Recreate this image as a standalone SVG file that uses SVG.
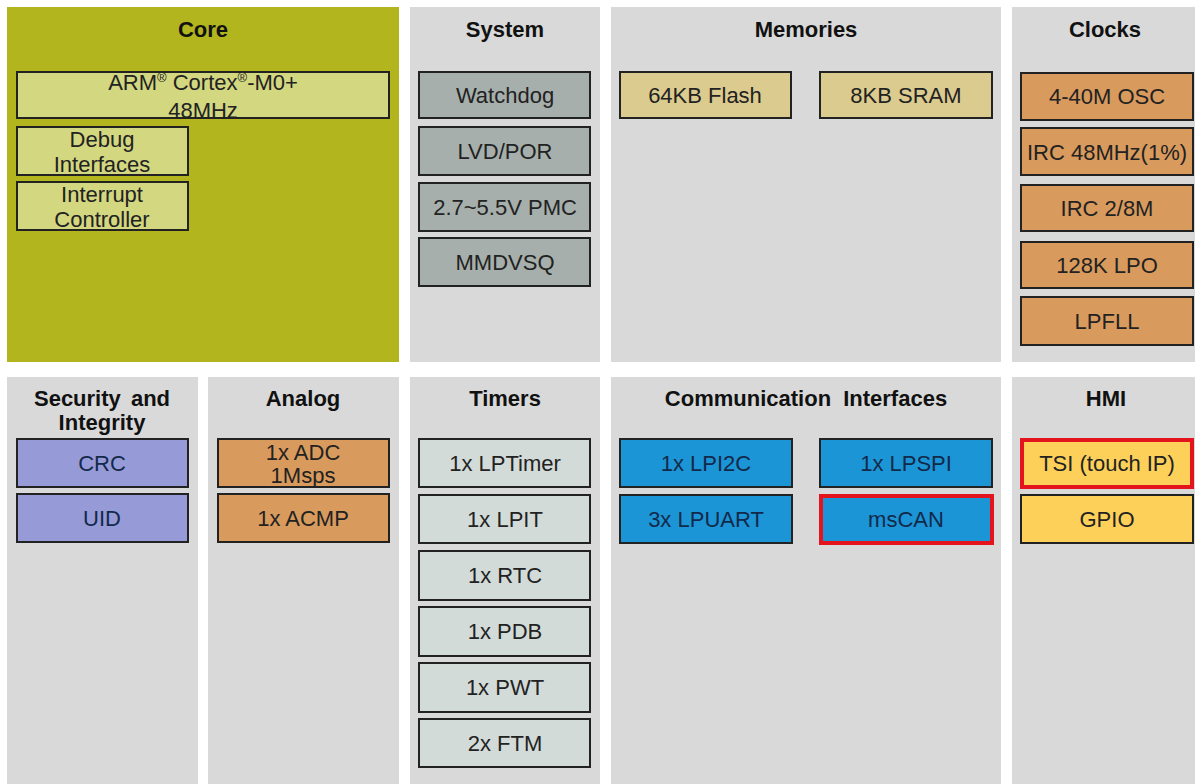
<svg xmlns="http://www.w3.org/2000/svg" width="1195" height="784" viewBox="0 0 1195 784">
<style>
.panel{fill:#d9d9d9}
.core{fill:#b3b51f}
.t{font-family:"Liberation Sans",Arial,sans-serif;font-size:22px;font-weight:bold;fill:#111;text-anchor:middle}
.l{font-family:"Liberation Sans",Arial,sans-serif;font-size:22px;fill:#222;text-anchor:middle}
.lb{font-family:"Liberation Sans",Arial,sans-serif;font-size:22px;fill:#13294a;text-anchor:middle}
.b{stroke:#222;stroke-width:2}
.red{stroke:#e3141b;stroke-width:4}
.cb{fill:#d2d780}
.sy{fill:#a6afab}
.me{fill:#dccb8e}
.or{fill:#d99a5d}
.se{fill:#969bd8}
.ti{fill:#d3dbd8}
.co{fill:#1b95d6}
.hm{fill:#fdd05a}
</style>
<rect width="1195" height="784" fill="#ffffff"/>
<g id="panel-core"><rect class="core" x="7" y="7" width="392" height="355"/><text class="t" x="203" y="37">Core</text></g>
<g id="panel-system"><rect class="panel" x="410" y="7" width="190" height="355"/><text class="t" x="505" y="37">System</text></g>
<g id="panel-memories"><rect class="panel" x="611" y="7" width="390" height="355"/><text class="t" x="806" y="37">Memories</text></g>
<g id="panel-clocks"><rect class="panel" x="1012" y="7" width="183" height="355"/><text class="t" x="1105" y="37">Clocks</text></g>
<g id="panel-security"><rect class="panel" x="7" y="377" width="191" height="407"/><text class="t" x="102" y="406" word-spacing="4">Security and</text><text class="t" x="102" y="430">Integrity</text></g>
<g id="panel-analog"><rect class="panel" x="208" y="377" width="191" height="407"/><text class="t" x="303" y="406">Analog</text></g>
<g id="panel-timers"><rect class="panel" x="410" y="377" width="190" height="407"/><text class="t" x="505" y="406">Timers</text></g>
<g id="panel-comm"><rect class="panel" x="611" y="377" width="390" height="407"/><text class="t" x="806" y="406" word-spacing="6">Communication Interfaces</text></g>
<g id="panel-hmi"><rect class="panel" x="1012" y="377" width="183" height="407"/><text class="t" x="1106" y="406">HMI</text></g>

<g id="arm"><rect class="cb b" x="17" y="72" width="372" height="46"/><text class="l" x="203" y="90">ARM<tspan font-size="13" dy="-8">®</tspan><tspan dy="8"> Cortex</tspan><tspan font-size="13" dy="-8">®</tspan><tspan dy="8">-M0+</tspan></text><text class="l" x="203" y="118">48MHz</text></g>
<g id="debug"><rect class="cb b" x="17" y="127" width="171" height="48"/><text class="l" x="102" y="147">Debug</text><text class="l" x="102" y="172">Interfaces</text></g>
<g id="interrupt"><rect class="cb b" x="17" y="182" width="171" height="48"/><text class="l" x="102" y="202">Interrupt</text><text class="l" x="102" y="227">Controller</text></g>

<g id="watchdog"><rect class="sy b" x="419" y="72" width="171" height="46"/><text class="l" x="505" y="103">Watchdog</text></g>
<g id="lvd"><rect class="sy b" x="419" y="127" width="171" height="48"/><text class="l" x="505" y="159">LVD/POR</text></g>
<g id="pmc"><rect class="sy b" x="419" y="183" width="171" height="48"/><text class="l" x="505" y="215">2.7~5.5V PMC</text></g>
<g id="mmdvsq"><rect class="sy b" x="419" y="238" width="171" height="48"/><text class="l" x="505" y="270">MMDVSQ</text></g>

<g id="flash"><rect class="me b" x="620" y="72" width="171" height="46"/><text class="l" x="705" y="103">64KB Flash</text></g>
<g id="sram"><rect class="me b" x="820" y="72" width="172" height="46"/><text class="l" x="906" y="103">8KB SRAM</text></g>

<g id="osc"><rect class="or b" x="1021" y="73" width="172" height="47"/><text class="l" x="1107" y="104">4-40M OSC</text></g>
<g id="irc48"><rect class="or b" x="1021" y="128" width="172" height="47"/><text class="l" x="1107" y="160">IRC 48MHz(1%)</text></g>
<g id="irc28"><rect class="or b" x="1021" y="185" width="172" height="46"/><text class="l" x="1107" y="216">IRC 2/8M</text></g>
<g id="lpo"><rect class="or b" x="1021" y="242" width="172" height="46"/><text class="l" x="1107" y="273">128K LPO</text></g>
<g id="lpfll"><rect class="or b" x="1021" y="297" width="172" height="48"/><text class="l" x="1107" y="329">LPFLL</text></g>

<g id="crc"><rect class="se b" x="17" y="439" width="171" height="48"/><text class="lb" x="102" y="471">CRC</text></g>
<g id="uid"><rect class="se b" x="17" y="494" width="171" height="48"/><text class="lb" x="102" y="526">UID</text></g>

<g id="adc"><rect class="or b" x="218" y="439" width="171" height="48"/><text class="l" x="303" y="460">1x ADC</text><text class="l" x="303" y="483">1Msps</text></g>
<g id="acmp"><rect class="or b" x="218" y="494" width="171" height="48"/><text class="l" x="303" y="526">1x ACMP</text></g>

<g id="lptimer"><rect class="ti b" x="419" y="439" width="171" height="48"/><text class="l" x="505" y="471">1x LPTimer</text></g>
<g id="lpit"><rect class="ti b" x="419" y="495" width="171" height="48"/><text class="l" x="505" y="527">1x LPIT</text></g>
<g id="rtc"><rect class="ti b" x="419" y="551" width="171" height="49"/><text class="l" x="505" y="583">1x RTC</text></g>
<g id="pdb"><rect class="ti b" x="419" y="607" width="171" height="49"/><text class="l" x="505" y="639">1x PDB</text></g>
<g id="pwt"><rect class="ti b" x="419" y="663" width="171" height="49"/><text class="l" x="505" y="695">1x PWT</text></g>
<g id="ftm"><rect class="ti b" x="419" y="719" width="171" height="48"/><text class="l" x="505" y="751">2x FTM</text></g>

<g id="lpi2c"><rect class="co b" x="620" y="439" width="172" height="48"/><text class="lb" x="706" y="471">1x LPI2C</text></g>
<g id="lpuart"><rect class="co b" x="620" y="495" width="172" height="48"/><text class="lb" x="706" y="527">3x LPUART</text></g>
<g id="lpspi"><rect class="co b" x="820" y="439" width="172" height="48"/><text class="lb" x="906" y="471">1x LPSPI</text></g>
<g id="mscan"><rect class="co red" x="821" y="496" width="171" height="47"/><text class="lb" x="906" y="527">msCAN</text></g>

<g id="tsi"><rect class="hm red" x="1022" y="440" width="170" height="47"/><text class="l" x="1107" y="471">TSI (touch IP)</text></g>
<g id="gpio"><rect class="hm b" x="1021" y="495" width="172" height="48"/><text class="l" x="1107" y="527">GPIO</text></g>

<g id="connectors"/>
</svg>
